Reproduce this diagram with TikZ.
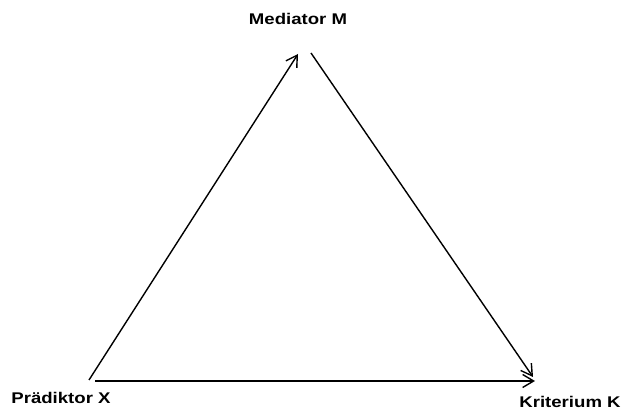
\documentclass[tikz,border=0pt]{standalone}
\usepackage{fontspec}
\setmainfont{Liberation Sans}
\usetikzlibrary{arrows.meta}
\begin{document}
\begin{tikzpicture}[x=1pt,y=-1pt,
  lbl/.style={font=\fontsize{15.5}{16}\selectfont\bfseries, inner sep=0pt, xscale=1.2},
  conn/.style={line width=1.4pt, -{Straight Barb[length=11pt,width=13pt,line width=1.4pt]}},
  plain/.style={line width=1.4pt}]
\useasboundingbox (0,0) rectangle (622,411);
\node[lbl] (m) at (298,19) {Mediator M};
\node[lbl] (x) at (61,398) {Prädiktor X};
\node[lbl] (k) at (570,402) {Kriterium K};
\coordinate (xa) at (89,380);
\coordinate (ma) at (298,54);
\coordinate (mb) at (311,53);
\coordinate (kb) at (533,377);
\coordinate (xb) at (95,381);
\coordinate (kc) at (535,381);
\draw[conn] (xa) -- (ma);
\draw[conn] (mb) -- (kb);
\draw[conn] (xb) -- (kc);
\end{tikzpicture}
\end{document}
